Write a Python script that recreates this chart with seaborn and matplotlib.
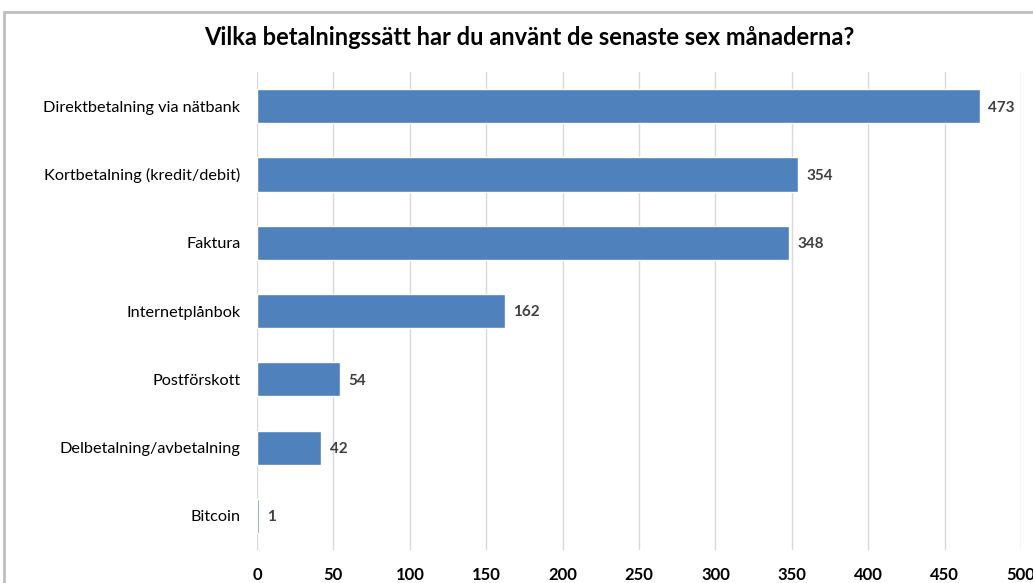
import matplotlib
matplotlib.use("Agg")
import matplotlib.pyplot as plt
import seaborn as sns
import pandas as pd
from matplotlib.patches import Rectangle

categories = [
    "Direktbetalning via nätbank",
    "Kortbetalning (kredit/debit)",
    "Faktura",
    "Internetplånbok",
    "Postförskott",
    "Delbetalning/avbetalning",
    "Bitcoin",
]
counts = [473, 354, 348, 162, 54, 42, 1]
x_ticks = [0, 50, 100, 150, 200, 250, 300, 350, 400, 450, 500]
title = "Vilka betalningssätt har du använt de senaste sex månaderna?"

sns.set_theme(style="white")
plt.rcParams["font.family"] = ["Lato", "DejaVu Sans"]

df = pd.DataFrame({"metod": categories, "antal": counts})

fig = plt.figure(figsize=(10.33, 5.83), dpi=100)
ax = fig.add_axes([0.2488, 0.0566, 0.7396, 0.8199])

sns.barplot(data=df, x="antal", y="metod", color="#4F81BD", width=0.5,
            saturation=1, ax=ax, zorder=3)

ax.set_xlim(0, 500)
ax.set_ylim(6.5, -0.5)
ax.set_xticks(x_ticks)
ax.set_xticklabels([str(t) for t in x_ticks], fontweight="bold", fontsize=12,
                   color="#000000")
ax.tick_params(axis="x", length=0, pad=12)
ax.tick_params(axis="y", length=0, pad=12, labelsize=11.7, labelcolor="#000000")
ax.set_xlabel("")
ax.set_ylabel("")
for s in ax.spines.values():
    s.set_visible(False)
ax.grid(axis="x", color="#D9D9D9", linewidth=1, zorder=0)
ax.grid(axis="y", visible=False)

for i, v in enumerate(counts):
    ax.annotate(str(v), xy=(v, i), xytext=(6, -1), textcoords="offset points",
                va="center", ha="left", fontsize=11, fontweight="bold",
                color="#404040")

fig.text(0.512, 0.936, title, ha="center", va="center", fontsize=17,
         fontweight="bold", color="#000000")

# chart frame
fig.patches.append(Rectangle((4 / 1033, -0.1), 1.2, 1.1 - 12 / 583,
                             transform=fig.transFigure, fill=False,
                             edgecolor="#BFBFBF", linewidth=2))

fig.savefig("out.png", dpi=100)
